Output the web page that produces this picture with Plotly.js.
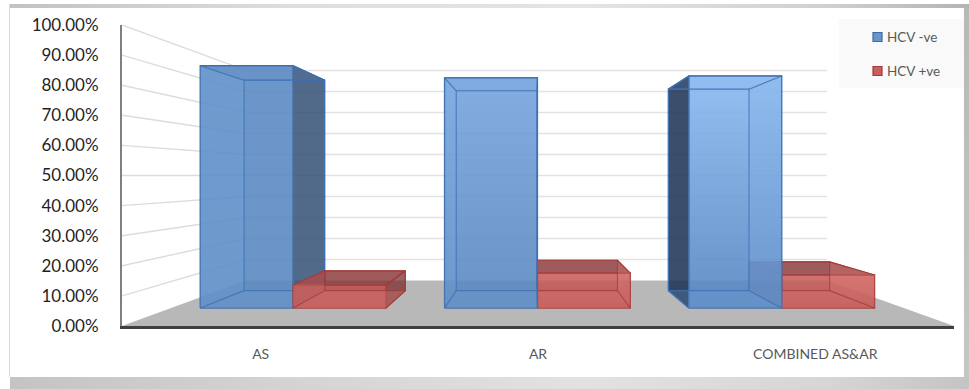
<!DOCTYPE html>
<html>
<head>
<meta charset="utf-8">
<script src="https://cdn.plot.ly/plotly-3.0.1.min.js"></script>
<style>
  html, body { margin: 0; padding: 0; width: 969px; height: 389px; overflow: hidden; background: #fff; }
  .band { position: absolute; }
  #top { left: 9px; top: 4px; width: 960px; height: 4px; background: linear-gradient(90deg,#c2c2c2 0%,#dedede 30%,#e4e4e4 60%,#d0d0d0 85%,#b4b4b4 100%); }
  #left { left: 9px; top: 4px; width: 1px; height: 373px; background: #dcdcdc; }
  #right { left: 964px; top: 8px; width: 5px; height: 369px; background: linear-gradient(180deg,#b8b8b8,#c6c6c6); }
  #bottom { left: 10px; top: 377px; width: 959px; height: 12px; background: linear-gradient(90deg,#c4c4c4 0%,#d4d4d4 30%,#e2e2e2 60%,#d6d6d6 85%,#c4c4c4 100%); }
  #chart { position: absolute; left: 0; top: 0; width: 969px; height: 389px; }
</style>
</head>
<body>
<div class="band" id="top"></div>
<div class="band" id="left"></div>
<div class="band" id="right"></div>
<div class="band" id="bottom"></div>
<div id="chart"></div>
<script>
// Share of patients per valve lesion, split by HCV status (percent)
const categories = ['AS', 'AR', 'COMBINED AS&AR'];
const hcvNegative = [91.4, 86.8, 87.5];
const hcvPositive = [8.6, 13.2, 12.5];
const seriesNames = ['HCV -ve', 'HCV +ve'];
const yTicks = [0, 10, 20, 30, 40, 50, 60, 70, 80, 90, 100];

// Perspective of the 3-D box: depth scales about a vanishing point given in axis units
const vanishX = 0.982, vanishY = 50;
const depthWall = 0.698, depthBarFront = 0.881, depthBarBack = 0.765;
const barSpan = 0.38;
const xMin = -0.5, xMax = 2.5;

const project = (x, v, s) => [vanishX + s * (x - vanishX), vanishY + s * (v - vanishY)];

function polyline(points) {
  return { x: points.map(p => p[0]), y: points.map(p => p[1]) };
}

function face(points, fill, edge, name) {
  const p = polyline(points.concat([points[0]]));
  const trace = {
    type: 'scatter', mode: 'lines', x: p.x, y: p.y, fill: 'toself', hoverinfo: 'skip', showlegend: false,
    line: { color: edge ? edge.color : 'rgba(0,0,0,0)', width: edge ? edge.width : 0 }
  };
  if (Array.isArray(fill)) {
    trace.fillgradient = { type: 'vertical', colorscale: [[0, fill[0]], [1, fill[1]]] };
  } else {
    trace.fillcolor = fill;
  }
  if (name) trace.name = name;
  return trace;
}

function segments(list, color, width) {
  const xs = [], ys = [];
  list.forEach(seg => {
    seg.forEach(p => { xs.push(p[0]); ys.push(p[1]); });
    xs.push(null); ys.push(null);
  });
  return { type: 'scatter', mode: 'lines', x: xs, y: ys, hoverinfo: 'skip', showlegend: false, line: { color, width } };
}

// Fill colours for each box, by series and category
const frontFill = [
  [['rgba(90,136,192,0.9)', 'rgba(92,138,196,0.9)'], ['rgba(88,134,190,0.9)', 'rgba(118,164,222,0.9)'], ['rgba(84,132,192,0.9)', 'rgba(136,184,240,0.9)']],
  [['rgba(186,76,76,0.88)', 'rgba(190,80,78,0.88)'], ['rgba(186,76,76,0.88)', 'rgba(202,96,92,0.88)'], ['rgba(186,76,76,0.88)', 'rgba(202,96,92,0.88)']]
];
const outerSideFill = [['rgba(50,80,118,0.85)', 'rgba(50,80,118,0.85)', 'rgba(30,52,84,0.87)'], ['rgba(120,45,45,0.75)', 'rgba(120,45,45,0.75)', 'rgba(120,45,45,0.75)']];
const innerSideFill = ['rgba(130,175,235,0.18)', 'rgba(225,125,118,0.32)'];
const topFill = ['rgba(90,136,192,0.15)', 'rgba(135,50,50,0.8)'];
const mainEdge = ['#4070aa', '#a54040'];
const innerEdge = ['rgba(60,112,180,0.8)', 'rgba(160,55,55,0.7)'];

function boxTraces(seriesIdx, catIdx, x0, x1, value) {
  const P = (x, v, s) => project(x, v, s);
  const f = depthBarFront, b = depthBarBack;
  const traces = [];
  const fill = frontFill[seriesIdx][catIdx];
  const leftOut = x0 > vanishX, rightOut = x1 < vanishX;
  const leftWall = [P(x0, 0, f), P(x0, value, f), P(x0, value, b), P(x0, 0, b)];
  const rightWall = [P(x1, 0, f), P(x1, value, f), P(x1, value, b), P(x1, 0, b)];

  // Walls that stand clear of the front face go behind it
  if (leftOut) traces.push(face(leftWall, outerSideFill[seriesIdx][catIdx], { color: mainEdge[seriesIdx], width: 1.2 }));
  if (rightOut) traces.push(face(rightWall, outerSideFill[seriesIdx][catIdx], { color: mainEdge[seriesIdx], width: 1.2 }));
  // Top lid
  traces.push(face([P(x0, value, f), P(x1, value, f), P(x1, value, b), P(x0, value, b)], topFill[seriesIdx],
    { color: mainEdge[seriesIdx], width: 1.1 }));
  // Front face
  traces.push(face([P(x0, 0, f), P(x1, 0, f), P(x1, value, f), P(x0, value, f)], fill,
    { color: mainEdge[seriesIdx], width: 1.4 }, seriesNames[seriesIdx]));
  // Ground plate and inner walls show through the front face
  traces.push(face([P(x0, 0, f), P(x1, 0, f), P(x1, 0, b), P(x0, 0, b)], innerSideFill[seriesIdx]));
  if (!leftOut) traces.push(face(leftWall, innerSideFill[seriesIdx]));
  if (!rightOut) traces.push(face(rightWall, innerSideFill[seriesIdx]));
  // Wireframe of the far corners
  traces.push(segments([
    [P(x0, 0, b), P(x1, 0, b), P(x1, value, b), P(x0, value, b), P(x0, 0, b)],
    [P(x0, 0, f), P(x0, 0, b)], [P(x1, 0, f), P(x1, 0, b)],
    [P(x0, value, f), P(x0, value, b)], [P(x1, value, f), P(x1, value, b)]
  ], innerEdge[seriesIdx], 1.1));
  return traces;
}

const traces = [];

// Floor of the chart box
traces.push(face([project(xMin, 0, 1), project(xMax, 0, 1), project(xMax, 0, depthWall), project(xMin, 0, depthWall)], '#b8b8b8'));

// Gridlines along the side wall and the back wall
traces.push(segments(yTicks.filter(v => v > 0).map(v => [project(xMin, v, 1), project(xMin, v, depthWall)]), '#dcdcdc', 1.4));
traces.push(segments(yTicks.filter(v => v > 0).map(v => [project(xMin, v, depthWall), project(xMax, v, depthWall)]), '#e2e2e2', 1.6));

// Boxes nearest the vanishing point are painted last
categories.forEach((name, i) => {
  const neg = boxTraces(0, i, i - barSpan, i, hcvNegative[i]);
  const pos = boxTraces(1, i, i, i + barSpan, hcvPositive[i]);
  if (i > vanishX) traces.push(...pos, ...neg);
  else traces.push(...neg, ...pos);
});

// Legend panel, placed in paper fractions of the plot area
const plotW = 832, plotH = 301, plotL = 122, plotT = 25;
const paperX = px => (px - plotL) / plotW;
const paperY = py => 1 - (py - plotT) / plotH;
const legendRows = [
  { label: seriesNames[0], cy: 37, fill: '#6a95cb', edge: '#3a6ba6' },
  { label: seriesNames[1], cy: 71, fill: '#c65f5f', edge: '#a23a3a' }
];
const shapes = [{
  type: 'rect', xref: 'paper', yref: 'paper', layer: 'below', line: { width: 0 }, fillcolor: '#f9f9f9',
  x0: paperX(839), x1: paperX(964), y0: paperY(88), y1: paperY(19)
}];
const annotations = [];
legendRows.forEach(r => {
  shapes.push({
    type: 'rect', xref: 'paper', yref: 'paper', fillcolor: r.fill, line: { color: r.edge, width: 1.2 },
    x0: paperX(873), x1: paperX(882), y0: paperY(r.cy + 4.5), y1: paperY(r.cy - 4.5)
  });
  annotations.push({
    xref: 'paper', yref: 'paper', x: paperX(885), y: paperY(r.cy), xanchor: 'left', yanchor: 'middle', showarrow: false,
    text: r.label, font: { family: 'Lato, sans-serif', size: 13.5, color: '#595959' }
  });
});

const layout = {
  width: 969, height: 389,
  margin: { l: plotL, r: 969 - plotL - plotW, t: plotT, b: 389 - plotT - plotH, pad: 0 },
  paper_bgcolor: 'rgba(0,0,0,0)', plot_bgcolor: 'rgba(0,0,0,0)',
  showlegend: false,
  shapes, annotations,
  xaxis: {
    range: [xMin, xMax], tickmode: 'array', tickvals: categories.map((c, i) => i), ticktext: categories,
    showgrid: false, zeroline: false, ticks: '', ticklabelstandoff: 14,
    showline: true, linecolor: '#3f3f3f', linewidth: 2.5,
    tickfont: { family: 'Lato, sans-serif', size: 14, color: '#595959' }
  },
  yaxis: {
    range: [0, 100], tickmode: 'array', tickvals: yTicks, ticktext: yTicks.map(v => v.toFixed(2) + '%'),
    showgrid: false, zeroline: false, ticks: '', ticklabelstandoff: 18,
    showline: true, linecolor: '#808080', linewidth: 2,
    tickfont: { family: 'Lato, sans-serif', size: 17, color: '#1f1f1f' }
  }
};

Plotly.newPlot('chart', traces, layout, { displayModeBar: false, staticPlot: true });
</script>
</body>
</html>
